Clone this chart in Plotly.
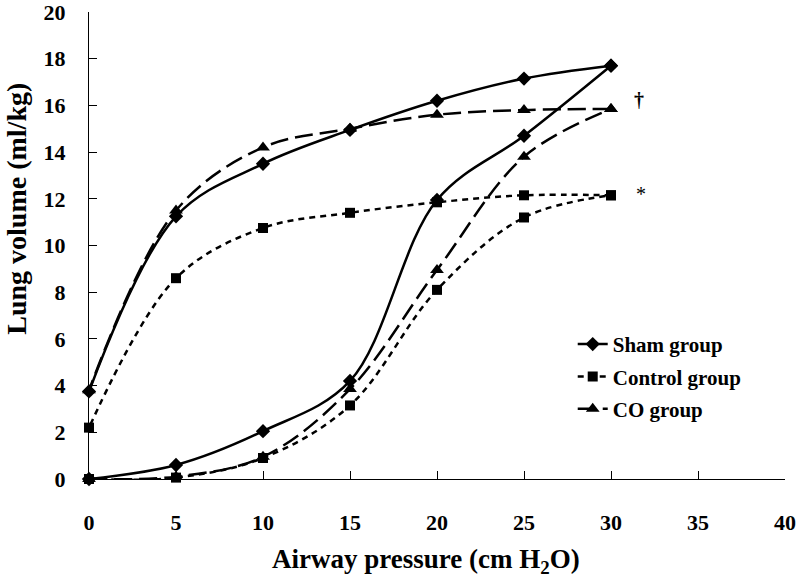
import plotly.graph_objects as go

# Airway pressure (cm H2O)
pressure_inf = [0, 5, 10, 15, 20, 25, 30]
pressure_def = [30, 25, 20, 15, 10, 5, 0]

# Lung volume (ml/kg) - inflation limb
sham_inf = [0, 0.6, 2.05, 4.2, 11.95, 14.7, 17.7]
control_inf = [0, 0.06, 0.9, 3.15, 8.1, 11.2, 12.15]
co_inf = [0, 0.1, 0.95, 3.85, 8.95, 13.8, 15.85]

# Lung volume (ml/kg) - deflation limb
sham_def = [17.7, 17.15, 16.2, 14.95, 13.5, 11.25, 3.75]
control_def = [12.15, 12.15, 11.85, 11.4, 10.75, 8.6, 2.2]
co_def = [15.85, 15.8, 15.6, 15.0, 14.2, 11.5, 3.8]

group_names = ["Sham group", "Control group", "CO group"]
x_ticks = [0, 5, 10, 15, 20, 25, 30, 35, 40]
y_ticks = [0, 2, 4, 6, 8, 10, 12, 14, 16, 18, 20]

FONT = "Liberation Serif"

styles = [
    dict(dash="solid", symbol="diamond", size=11),
    dict(dash="6px,5px", symbol="square", size=10),
    dict(dash="18px,7px", symbol="triangle-up", size=12),
]
series = [
    (sham_inf, sham_def),
    (control_inf, control_def),
    (co_inf, co_def),
]

fig = go.Figure()
for name, st, (inf, dfl) in zip(group_names, styles, series):
    for i, (xs, ys) in enumerate([(pressure_def, dfl), (pressure_inf, inf)]):
        fig.add_trace(go.Scatter(
            x=xs, y=ys, name=name, legendgroup=name,
            showlegend=(i == 0),
            mode="lines+markers",
            line=dict(color="black", width=2.5, dash=st["dash"], shape="spline", smoothing=1.0),
            marker=dict(color="black", symbol=st["symbol"], size=st["size"]),
            cliponaxis=False,
        ))

fig.add_annotation(x=31.6, y=16.25, text="†", showarrow=False, xref="x", yref="y",
                   font=dict(family=FONT, size=20, color="black", weight="bold"))
fig.add_annotation(x=31.75, y=12.2, text="*", showarrow=False, xref="x", yref="y",
                   font=dict(family=FONT, size=20, color="black"))

PW, PH = 696.0, 467.6
# Y-axis title (offset upward as in reference)
fig.add_annotation(xref="paper", yref="paper", x=(16 - 89.3) / PW, y=(479.3 - 209) / PH,
                   text="Lung volume (ml/kg)", showarrow=False, textangle=-90,
                   xanchor="center", yanchor="middle",
                   font=dict(family=FONT, size=28, color="black", weight="bold"))
# X-axis title
fig.add_annotation(xref="paper", yref="paper", x=(426 - 89.3) / PW, y=(479.3 - 561) / PH,
                   text="Airway pressure (cm H<sub>2</sub>O)", showarrow=False,
                   xanchor="center", yanchor="middle",
                   font=dict(family=FONT, size=27, color="black", weight="bold"))

fig.update_layout(
    width=800, height=583,
    margin=dict(l=89, r=15, t=12, b=104, autoexpand=False),
    paper_bgcolor="white", plot_bgcolor="white",
    font=dict(family=FONT, color="black"),
    showlegend=True,
    legend=dict(x=0.695, y=0.332, xanchor="left", yanchor="top",
                font=dict(family=FONT, size=21, color="black", weight="bold"),
                bgcolor="rgba(0,0,0,0)", tracegroupgap=2),
    xaxis=dict(range=[0, 40], tickvals=x_ticks, ticks="inside", ticklen=8, tickcolor="black",
               showline=True, linecolor="black", linewidth=1, showgrid=False, zeroline=False,
               automargin=False, ticklabeloverflow="allow",
               tickfont=dict(family=FONT, size=22, color="black", weight="bold"),
               ticklabelstandoff=24),
    yaxis=dict(range=[0, 20], tickvals=y_ticks, ticks="inside", ticklen=8, tickcolor="black",
               showline=True, linecolor="black", linewidth=1, showgrid=False, zeroline=False,
               automargin=False, ticklabeloverflow="allow",
               tickfont=dict(family=FONT, size=22, color="black", weight="bold"),
               ticklabelstandoff=18),
)

fig.write_html("out.html", config={"displayModeBar": False},
               post_script="document.body.style.margin='0';document.body.style.overflow='hidden';")
